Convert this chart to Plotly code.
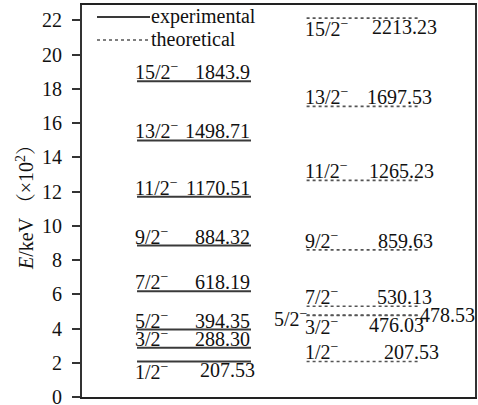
import plotly.graph_objects as go

# ---- data ----
spins = ["1/2", "3/2", "5/2", "7/2", "9/2", "11/2", "13/2", "15/2"]
exp_energy = [207.53, 288.30, 394.35, 618.19, 884.32, 1170.51, 1498.71, 1843.9]
exp_labels = ["207.53", "288.30", "394.35", "618.19", "884.32", "1170.51", "1498.71", "1843.9"]
theo_energy = [207.53, 476.03, 478.53, 530.13, 859.63, 1265.23, 1697.53, 2213.23]
theo_labels = ["207.53", "476.03", "478.53", "530.13", "859.63", "1265.23", "1697.53", "2213.23"]
y_ticks = [0, 2, 4, 6, 8, 10, 12, 14, 16, 18, 20, 22]
series_names = ["experimental", "theoretical"]
y_title = "<i>E</i>/keV \uff08\u00d710<sup>2</sup>\uff09"

# ---- style / layout ----
SCALE = 100.0
W, H = 478, 405
ML, MR, MT, MB = 82, 3, 5, 8
exp_center, theo_center, half_w = 0.285, 0.7165, 0.145
exp_place = ["below", "above", "above", "above", "above", "above", "above", "above"]
exp_xshift = [5, 0, 0, 0, 0, 0, 0, 0]
theo_place = ["above", "below", "side", "above", "above", "above", "above", "below"]
theo_xshift = [19, 4, 0, 12, 13, 14, 12, 17]
FONT = "Liberation Serif, Times New Roman, Noto Serif CJK SC, Noto Sans CJK SC, serif"
LFS = 20
EXP_LINE = dict(color="#3a3a3a", width=2)
THEO_LINE = dict(color="#555555", width=1.6, dash="dot")


def seg(center, energies):
    xs, ys = [], []
    for e in energies:
        xs += [center - half_w, center + half_w, None]
        ys += [e / SCALE, e / SCALE, None]
    return xs, ys


fig = go.Figure()
ex, ey = seg(exp_center, exp_energy)
tx, ty = seg(theo_center, theo_energy)
fig.add_trace(go.Scatter(x=ex, y=ey, mode="lines", name=series_names[0],
                         line=EXP_LINE, showlegend=False, hoverinfo="skip"))
fig.add_trace(go.Scatter(x=tx, y=ty, mode="lines", name=series_names[1],
                         line=THEO_LINE, showlegend=False, hoverinfo="skip"))

ann = []
lab_font = dict(family=FONT, size=LFS, color="#111")


def add_labels(center, energies, labels, places, xsh):
    for s, e, lab, p, xs in zip(spins, energies, labels, places, xsh):
        y = e / SCALE
        x0, x1 = center - half_w, center + half_w
        stext = s + "<sup>\u2212</sup>"
        if p == "side":
            ann.append(dict(x=x0, y=y, text=stext, xanchor="right", yanchor="middle",
                            xshift=2, yshift=-3))
            ann.append(dict(x=x1, y=y, text=lab, xanchor="left", yanchor="middle",
                            xshift=-2, yshift=0))
            continue
        ya = "bottom" if p == "above" else "top"
        ys = -3 if p == "above" else 3
        ann.append(dict(x=x0, y=y, text=stext, xanchor="left", yanchor=ya,
                        xshift=-3, yshift=ys))
        ann.append(dict(x=x1, y=y, text=lab, xanchor="right", yanchor=ya,
                        xshift=xs, yshift=ys))


add_labels(exp_center, exp_energy, exp_labels, exp_place, exp_xshift)
add_labels(theo_center, theo_energy, theo_labels, theo_place, theo_xshift)
for a in ann:
    a.update(showarrow=False, font=lab_font, borderpad=0)

# manual legend (key lines in paper coords)
pw, ph = W - ML - MR, H - MT - MB
def px_x(p):
    return (p - ML) / pw
def px_y(p):
    return 1 - (p - MT) / ph

shapes = []
for i, (nm, ln) in enumerate(zip(series_names, [EXP_LINE, THEO_LINE])):
    yy = px_y(17 + 23 * i)
    shapes.append(dict(type="line", xref="paper", yref="paper",
                       x0=px_x(97), x1=px_x(150), y0=yy, y1=yy, line=ln))
    ann.append(dict(xref="paper", yref="paper", x=px_x(150), y=yy, text=nm,
                    xanchor="left", yanchor="middle", showarrow=False,
                    font=dict(family=FONT, size=LFS, color="#111"), borderpad=0,
                    yshift=1))

# y-axis title as rotated annotation
ann.append(dict(xref="paper", yref="paper", x=px_x(25), y=px_y(203), text=y_title,
                textangle=-90, xanchor="center", yanchor="middle", showarrow=False,
                font=dict(family=FONT, size=20, color="#111")))

fig.update_layout(
    width=W, height=H,
    margin=dict(l=ML, r=MR, t=MT, b=MB, autoexpand=False),
    paper_bgcolor="white", plot_bgcolor="white",
    font=dict(family=FONT, size=20, color="#111"),
    annotations=ann, shapes=shapes,
    showlegend=False,
    xaxis=dict(range=[0, 1], showticklabels=False, ticks="", showgrid=False,
               automargin=False,
               zeroline=False, showline=True, linecolor="#222", linewidth=2, mirror=True),
    yaxis=dict(range=[0, 22.9], tickvals=y_ticks, ticks="outside", ticklen=8,
               automargin=False,
               tickwidth=1.5, tickcolor="#333", showgrid=False, zeroline=False,
               showline=True, linecolor="#333", linewidth=2, mirror=True,
               ticklabelstandoff=6, ticklabeloverflow="allow",
               tickfont=dict(family=FONT, size=20, color="#111")),
)

fig.write_html(
    "out.html", config={"displayModeBar": False},
    post_script=("document.body.style.margin='0';"
                 "document.body.style.overflow='hidden';"
                 "document.documentElement.style.overflow='hidden';"),
)
